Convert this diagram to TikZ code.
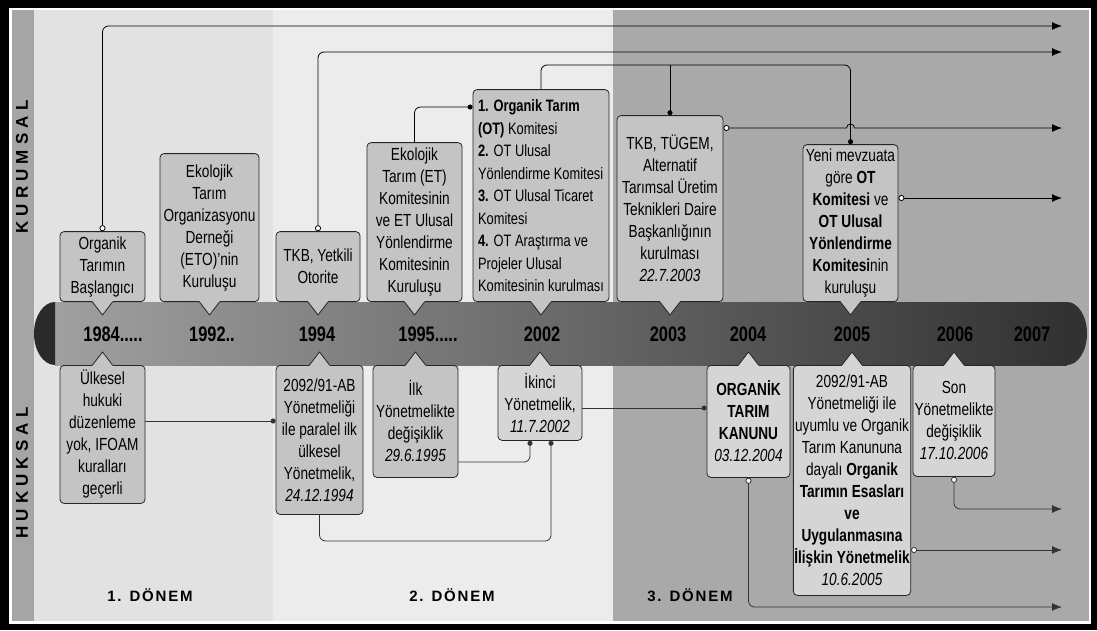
\documentclass[tikz,border=0pt]{standalone}
\usepackage{fontspec}
\setmainfont{Liberation Sans}
\newfontfamily\narrowfont{Liberation Sans}[FakeStretch=0.78]
\newfontfamily\sidefont{Liberation Sans}[LetterSpace=30]
\newfontfamily\periodfont{Liberation Sans}[LetterSpace=12]
\usetikzlibrary{arrows.meta,positioning,calc}
\definecolor{bgfirst}{RGB}{226,226,226}
\definecolor{bgsecond}{RGB}{236,236,236}
\definecolor{bgthird}{RGB}{169,169,169}
\definecolor{stripgray}{RGB}{165,165,165}
\definecolor{boxgray}{RGB}{196,196,196}
\definecolor{boxlight}{RGB}{213,213,213}
\definecolor{barleft}{RGB}{160,160,160}
\definecolor{barright}{RGB}{50,50,50}
\definecolor{capdark}{RGB}{42,42,42}
\tikzset{
    ring/.tip={Circle[length=6pt,fill=white]},
    blob/.tip={Circle[length=5pt]},
    head/.tip={Latex[length=10pt,width=8pt]},
    tipline/.style={line width=0.8pt, draw=black!85, line join=round},
}
% pointer of a callout into the time bar
\newcommand{\tipdown}[2]{%
    \fill[#2] ([xshift=-10pt]#1.south) -- ([yshift=-13pt]#1.south) -- ([xshift=10pt]#1.south)
        -- ([xshift=10pt,yshift=1.5pt]#1.south) -- ([xshift=-10pt,yshift=1.5pt]#1.south) -- cycle;
    \draw[tipline] ([xshift=-10pt]#1.south) -- ([yshift=-13pt]#1.south) -- ([xshift=10pt]#1.south);}
\newcommand{\tipup}[2]{%
    \fill[#2] ([xshift=-10pt]#1.north) -- ([yshift=13pt]#1.north) -- ([xshift=10pt]#1.north)
        -- ([xshift=10pt,yshift=-1.5pt]#1.north) -- ([xshift=-10pt,yshift=-1.5pt]#1.north) -- cycle;
    \draw[tipline] ([xshift=-10pt]#1.north) -- ([yshift=13pt]#1.north) -- ([xshift=10pt]#1.north);}
\begin{document}
\begin{tikzpicture}[
    x=1pt, y=-1pt,
    callout/.style={draw=black!85, line width=0.8pt, rounded corners=4pt, inner sep=1pt,
        font=\narrowfont\fontsize{17.5}{22}\selectfont, align=center},
    upbox/.style={callout, fill=boxgray, anchor=south},
    downbox/.style={callout, fill=boxgray, anchor=north},
    year/.style={font=\narrowfont\bfseries\fontsize{21}{24}\selectfont},
    period/.style={font=\periodfont\bfseries\fontsize{15}{18}\selectfont},
    side/.style={font=\sidefont\bfseries\fontsize{17}{18}\selectfont, rotate=90},
    conn/.style={line width=0.8pt, rounded corners=6pt},
    connlow/.style={conn, draw=black!80},
]
    \useasboundingbox (0,0) rectangle (1097,630);
    % Frame and period backgrounds
    \fill[black] (0,0) rectangle (1097,630);
    \fill[white] (9,8) rectangle (1091,624);
    \fill[stripgray] (12,10) rectangle (34,621);
    \fill[bgfirst] (34,10) rectangle (273,621);
    \fill[bgsecond] (273,10) rectangle (613,621);
    \fill[bgthird] (613,10) rectangle (1089,621);
    \node[side] (kurumsal) at (22,167) {KURUMSAL};
    \node[side] (hukuksal) at (22,473) {HUKUKSAL};
    % Time bar
    \shade[left color=barleft, right color=barright] (55,302) rectangle (1067,365);
    \fill[barright] (1067,302) arc[start angle=90, end angle=-90, x radius=20pt, y radius=31.5pt] -- cycle;
    \fill[capdark] (55,302) arc[start angle=90, end angle=270, x radius=21pt, y radius=31.5pt] -- cycle;
    \node[year] (y1984) at (113,334) {1984.....};
    \node[year] (y1992) at (212,334) {1992..};
    \node[year] (y1994) at (317,334) {1994};
    \node[year] (y1995) at (428,334) {1995.....};
    \node[year] (y2002) at (542,334) {2002};
    \node[year] (y2003) at (668,334) {2003};
    \node[year] (y2004) at (748,334) {2004};
    \node[year] (y2005) at (852,334) {2005};
    \node[year] (y2006) at (955,334) {2006};
    \node[year] (y2007) at (1032,334) {2007};
    % Institutional events (above the bar)
    \node[upbox, minimum width=85, minimum height=70] (orgbas) at (102.5,302)
        {Organik\\ Tarımın\\ Başlangıcı};
    \node[upbox, minimum width=99, minimum height=148] (eto) at (209.5,302)
        {Ekolojik\\ Tarım\\ Organizasyonu\\ Derneği\\ (ETO)’nin\\ Kuruluşu};
    \node[upbox, minimum width=84, minimum height=70] (tkb) at (318,302)
        {TKB, Yetkili\\ Otorite};
    \node[upbox, minimum width=95, minimum height=159] (etkom) at (414.5,302)
        {Ekolojik\\ Tarım (ET)\\ Komitesinin\\ ve ET Ulusal\\ Yönlendirme\\ Komitesinin\\ Kuruluşu};
    \node[upbox, minimum width=136, minimum height=212, align=left,
        font=\narrowfont\fontsize{16.5}{22.5}\selectfont] (otkom) at (541,302)
        {\textbf{1. Organik Tarım}\\ \textbf{(OT)} Komitesi\\ \textbf{2.} OT Ulusal\\ Yönlendirme Komitesi\\
         \textbf{3.} OT Ulusal Ticaret\\ Komitesi\\ \textbf{4.} OT Araştırma ve\\ Projeler Ulusal\\ Komitesinin kurulması};
    \node[upbox, minimum width=106, minimum height=186] (tugem) at (670,302)
        {TKB, TÜGEM,\\ Alternatif\\ Tarımsal Üretim\\ Teknikleri Daire\\ Başkanlığının\\ kurulması\\ \textit{22.7.2003}};
    \node[upbox, minimum width=95, minimum height=157] (yeni) at (850.5,302)
        {Yeni mevzuata\\ göre \textbf{OT}\\ \textbf{Komitesi} ve\\ \textbf{OT Ulusal}\\ \textbf{Yönlendirme}\\ \textbf{Komitesi}nin\\ kuruluşu};
    % Legal events (below the bar)
    \node[downbox, minimum width=85, minimum height=138] (ulkesel) at (102.5,365)
        {Ülkesel\\ hukuki\\ düzenleme\\ yok, IFOAM\\ kuralları\\ geçerli};
    \node[downbox, minimum width=87, minimum height=149] (ilkyon) at (319.5,365)
        {2092/91-AB\\ Yönetmeliği\\ ile paralel ilk\\ ülkesel\\ Yönetmelik,\\ \textit{24.12.1994}};
    \node[downbox, minimum width=85, minimum height=112] (degis) at (415.5,365)
        {İlk\\ Yönetmelikte\\ değişiklik\\ \textit{29.6.1995}};
    \node[downbox, fill=boxlight, minimum width=84, minimum height=75] (ikinci) at (540,365)
        {İkinci\\ Yönetmelik,\\ \textit{11.7.2002}};
    \node[downbox, fill=boxlight, minimum width=83, minimum height=112] (kanun) at (748.5,365)
        {\textbf{ORGANİK}\\ \textbf{TARIM}\\ \textbf{KANUNU}\\ \textit{03.12.2004}};
    \node[downbox, fill=boxlight, minimum width=114, minimum height=230] (esas) at (852,365)
        {2092/91-AB\\ Yönetmeliği ile\\ uyumlu ve Organik\\ Tarım Kanununa\\ dayalı \textbf{Organik}\\
         \textbf{Tarımın Esasları}\\ \textbf{ve}\\ \textbf{Uygulanmasına}\\ \textbf{İlişkin Yönetmelik}\\ \textit{10.6.2005}};
    \node[downbox, fill=boxlight, minimum width=82, minimum height=111] (son) at (954,365)
        {Son\\ Yönetmelikte\\ değişiklik\\ \textit{17.10.2006}};
    % Callout pointers
    \foreach \n in {orgbas,eto,tkb,etkom,otkom,tugem,yeni} {\tipdown{\n}{boxgray}}
    \foreach \n in {ulkesel,ilkyon,degis} {\tipup{\n}{boxgray}}
    \foreach \n in {ikinci,kanun,esas,son} {\tipup{\n}{boxlight}}
    % Free ends at the right margin
    \coordinate (e1) at (1062,26);
    \coordinate (e2) at (1062,52);
    \coordinate (e3) at (1062,128);
    \coordinate (e4) at (1062,198);
    \coordinate (e5) at (1062,509);
    \coordinate (e6) at (1062,550);
    \coordinate (e7) at (1062,607);
    \coordinate (kin1) at ([xshift=11pt]ikinci.south);
    \coordinate (kin2) at ([xshift=-10pt]ikinci.south);
    % Upper connectors
    \draw[conn, ring-head] (orgbas.north) |- (e1);
    \draw[conn, ring-head] (tkb.north) |- (e2);
    \draw[conn, -blob] (etkom.north) |- (otkom.west |- 0,107);
    \draw[conn, -blob] (otkom.north) |- (yeni.north |- 0,65) -- (yeni.north);
    \draw[conn, -blob] (tugem.north |- 0,65) -- (tugem.north);
    \draw[conn, sharp corners, ring-head] (tugem.east |- 0,128) -- (846.5,128)
        arc[start angle=180, end angle=0, radius=4pt] -- (e3);
    \draw[conn, ring-head] (yeni.east |- e4) -- (e4);
    % Lower connectors
    \draw[connlow, -blob] (ulkesel.east |- 0,421) -- (ilkyon.west |- 0,421);
    \draw[connlow, -blob] (ilkyon.south) |- (kin1 |- 0,541) -- (kin1);
    \draw[connlow, -blob] (degis.east |- 0,462) -| (kin2);
    \draw[connlow, -blob] (ikinci.east |- 0,408) -- (kanun.west |- 0,408);
    \draw[connlow, ring-head] (kanun.south) |- (e7);
    \draw[connlow, ring-head] (esas.east |- e6) -- (e6);
    \draw[connlow, ring-head] (son.south) |- (e5);
    % Periods
    \node[period] (donem1) at (150,595) {1. DÖNEM};
    \node[period] (donem2) at (452,595) {2. DÖNEM};
    \node[period] (donem3) at (690,595) {3. DÖNEM};
\end{tikzpicture}
\end{document}
